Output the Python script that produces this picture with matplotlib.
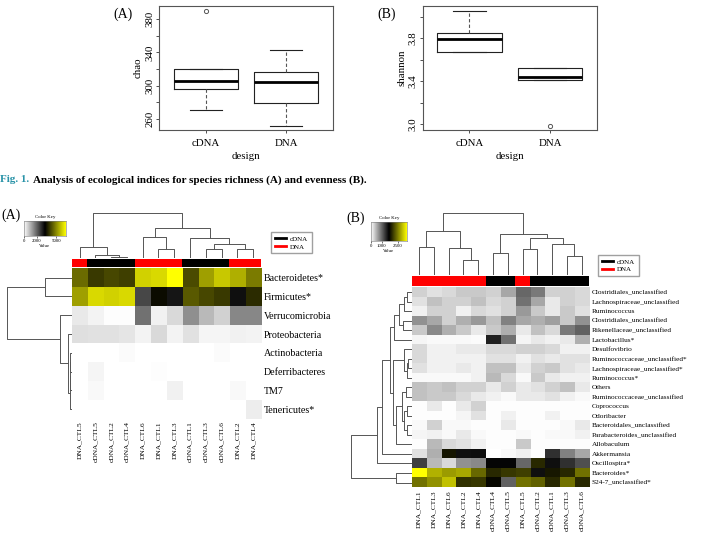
import numpy as np
import matplotlib
matplotlib.use("Agg")
import matplotlib.pyplot as plt
from matplotlib.colors import LinearSegmentedColormap
from matplotlib.lines import Line2D

plt.rcParams['font.family'] = ['Liberation Serif', 'DejaVu Serif']

W, H = 703, 533

# ---- box plot data ----
groups = ['cDNA', 'DNA']
chao_med = [305.2, 304.4]
chao_q1 = [296.0, 279.2]
chao_q3 = [320.0, 316.4]
chao_lo = [270.4, 252.0]
chao_hi = [320.0, 342.4]
chao_out = [[389.6], []]

shan_med = [3.793, 3.441]
shan_q1 = [3.670, 3.413]
shan_q3 = [3.846, 3.525]
shan_lo = [3.670, 3.413]
shan_hi = [4.054, 3.525]
shan_out = [[], [2.984]]

# ---- heatmap A: phyla ----
phyla = ['Bacteroidetes*', 'Firmicutes*', 'Verrucomicrobia', 'Proteobacteria',
         'Actinobacteria', 'Deferribacteres', 'TM7', 'Tenericutes*']
samples_a = ['DNA_CTL5', 'cDNA_CTL5', 'cDNA_CTL2', 'cDNA_CTL4', 'DNA_CTL6', 'DNA_CTL1',
             'DNA_CTL3', 'cDNA_CTL1', 'cDNA_CTL3', 'cDNA_CTL6', 'DNA_CTL2', 'DNA_CTL4']
phyla_counts = [
    [4600, 3970, 4160, 4060, 5900, 6000, 6500, 4200, 5270, 5790, 5460, 4810],
    [5270, 6000, 5900, 6000, 2340, 3400, 2990, 4390, 4160, 3980, 3070, 3790],
    [290, 160, 30, 30, 1820, 200, 490, 1430, 910, 590, 1530, 1530],
    [420, 390, 390, 340, 160, 490, 160, 390, 130, 130, 200, 160],
    [20, 20, 20, 60, 10, 10, 20, 10, 10, 60, 10, 10],
    [10, 150, 10, 10, 10, 40, 10, 10, 10, 10, 10, 10],
    [10, 100, 10, 10, 10, 10, 180, 10, 10, 10, 100, 10],
    [5, 5, 5, 5, 5, 5, 5, 5, 5, 5, 5, 230],
]
# dendrograms as (left, right, height); ints are leaf positions
col_tree_a = ((0, (1, (2, 3, 4), 8), 32),
              ((4, (5, 6, 28), 63), (7, ((8, 9, 28), (10, 11, 28), 42), 60), 90), 135)
row_tree_a = ((0, 1, 77), (2, (3, (((4, 5, 4), 6, 5), 7, 6), 12), 35), 190)

# ---- heatmap B: genera ----
genera = ['Clostridiales_unclassified', 'Lachnospiraceae_unclassified', 'Ruminococcus',
          'Clostridiales_unclassified', 'Rikenellaceae_unclassified', 'Lactobacillus*',
          'Desulfovibrio', 'Ruminococcaceae_unclassified*', 'Lachnospiraceae_unclassified*',
          'Ruminococcus*', 'Others', 'Ruminococcaceae_unclassified', 'Coprococcus',
          'Odoribacter', 'Bacteroidales_unclassified', 'Parabacteroides_unclassified',
          'Allobaculum', 'Akkermansia', 'Oscillospira*', 'Bacteroides*', 'S24-7_unclassified*']
samples_b = ['DNA_CTL1', 'DNA_CTL3', 'DNA_CTL6', 'DNA_CTL2', 'DNA_CTL4', 'cDNA_CTL4',
             'cDNA_CTL5', 'DNA_CTL5', 'cDNA_CTL2', 'cDNA_CTL1', 'cDNA_CTL3', 'cDNA_CTL6']
genus_counts = [
    [300, 200, 250, 360, 360, 300, 570, 980, 870, 300, 300, 250],
    [200, 410, 300, 300, 410, 250, 300, 920, 570, 150, 300, 250],
    [100, 300, 300, 100, 250, 200, 300, 670, 360, 150, 360, 200],
    [720, 570, 300, 520, 670, 410, 820, 570, 520, 620, 360, 720],
    [360, 770, 520, 360, 150, 360, 520, 150, 410, 250, 870, 1030],
    [70, 50, 50, 50, 30, 1440, 920, 70, 150, 100, 150, 520],
    [250, 100, 100, 150, 150, 250, 250, 300, 300, 250, 100, 100],
    [250, 100, 100, 100, 100, 200, 200, 100, 200, 150, 200, 200],
    [200, 100, 100, 150, 100, 410, 410, 150, 300, 360, 200, 150],
    [50, 50, 50, 50, 100, 460, 250, 50, 360, 150, 100, 100],
    [410, 360, 410, 300, 300, 150, 300, 150, 200, 300, 410, 150],
    [410, 360, 360, 250, 150, 100, 50, 150, 150, 200, 100, 50],
    [20, 150, 20, 150, 300, 20, 20, 20, 20, 20, 20, 20],
    [20, 20, 20, 70, 200, 20, 100, 20, 20, 100, 20, 20],
    [40, 300, 40, 40, 20, 20, 150, 20, 20, 20, 40, 150],
    [70, 100, 40, 150, 40, 20, 20, 40, 20, 40, 40, 100],
    [20, 460, 250, 200, 100, 20, 20, 360, 20, 20, 20, 20],
    [200, 520, 1780, 1550, 1560, 10, 50, 100, 20, 1340, 820, 570],
    [1240, 460, 250, 720, 770, 1620, 1620, 980, 1910, 1550, 1340, 1140],
    [3300, 2790, 2650, 2740, 2330, 1910, 2010, 2060, 1550, 1800, 1910, 2380],
    [2380, 2580, 2890, 1960, 2010, 1700, 1030, 2380, 2270, 1910, 2380, 1910],
]
col_tree_b = (((0, 1, 83), (2, (3, 4, 45), 80), 130),
              ((5, 6, 65), ((7, 8, 78), (9, (10, 11, 58), 92), 110), 122), 185)
_d = ((((0, 1, 13), 2, 23), (3, 4, 25), 37), 5, 52)
_f = (6, ((7, 8, 11), 9, 15), 23)
_g = ((10, 11, 17), ((12, 13, 13), (14, 15, 13), 23), 30)
row_tree_b = ((((_d, (_f, (_g, 16, 48), 55), 65), 17, 88), 18, 105), (19, 20, 47), 182)

cmap = LinearSegmentedColormap.from_list('wby', ['white', 'black', 'yellow'])

fig = plt.figure(figsize=(W / 100, H / 100), dpi=100)


def rect(x0, y0, x1, y1):
    return [x0 / W, 1 - y1 / H, (x1 - x0) / W, (y1 - y0) / H]


def boxpanel(px, med, q1, q3, lo, hi, out, ylim, ticks, shown, ylabel):
    ax = fig.add_axes(rect(*px))
    stats = [dict(med=med[i], q1=q1[i], q3=q3[i], whislo=lo[i], whishi=hi[i],
                  fliers=out[i], label=groups[i]) for i in range(len(groups))]
    ax.bxp(stats, positions=[1, 2], widths=0.8, capwidths=0.4,
           boxprops=dict(color='#222222', lw=0.8),
           medianprops=dict(color='black', lw=2),
           whiskerprops=dict(color='#555555', lw=0.8, ls=(0, (3, 2))),
           capprops=dict(color='#222222', lw=0.8),
           flierprops=dict(marker='o', mfc='none', mec='#555555', ms=3, mew=0.7))
    ax.set_xlim(0.42, 2.58)
    ax.set_ylim(*ylim)
    ax.set_yticks(ticks)
    ax.set_yticklabels([t if t in shown else '' for t in
                        [('%g' % v if v >= 100 else '%.1f' % v) for v in ticks]],
                       rotation=90, va='center', fontsize=7.8)
    ax.tick_params(axis='both', length=2.5, width=0.6, pad=1, colors='#333333',
                   labelcolor='black')
    ax.tick_params(axis='x', pad=4, labelsize=7.8)
    ax.set_xlabel('design', fontsize=7.8, labelpad=3)
    ax.set_ylabel(ylabel, fontsize=7.8, labelpad=2)
    for s in ax.spines.values():
        s.set_color('#555555')
        s.set_linewidth(0.8)
    return ax


boxpanel((159, 6, 333, 130), chao_med, chao_q1, chao_q3, chao_lo, chao_hi, chao_out,
         (246.8, 395.6), [260, 280, 300, 320, 340, 360, 380],
         ['260', '300', '340', '380'], 'chao')
boxpanel((422.7, 6, 596.7, 130), shan_med, shan_q1, shan_q3, shan_lo, shan_hi, shan_out,
         (2.947, 4.10), [3.0, 3.2, 3.4, 3.6, 3.8, 4.0],
         ['3.0', '3.4', '3.8'], 'shannon')

fig.text(133 / W, 1 - 14 / H, '(A)', ha='right', va='center', fontsize=10)
fig.text(396 / W, 1 - 14 / H, '(B)', ha='right', va='center', fontsize=10)

fig.text(0 / W, 1 - 180 / H, 'Fig. 1.', ha='left', va='center', fontsize=8,
         fontweight='bold', color='#2a93a8')
fig.text(33 / W, 1 - 180 / H,
         'Analysis of ecological indices for species richness (A) and evenness (B).',
         ha='left', va='center', fontsize=8, fontweight='bold')


def draw_tree(ax, node, orient):
    if isinstance(node, int):
        return node, 0.0
    left, right, h = node
    lp, lh = draw_tree(ax, left, orient)
    rp, rh = draw_tree(ax, right, orient)
    xs, ys = [lp, lp, rp, rp], [lh, h, h, rh]
    if orient == 'top':
        ax.plot(xs, ys, color='#555555', lw=0.7)
    else:
        ax.plot(ys, xs, color='#555555', lw=0.7)
    return (lp + rp) / 2, h


def heatpanel(values, rows, cols, hm_px, strip_px, cden_px, rden_px,
              col_tree, row_tree, vmax, row_fs, col_fs):
    n, m = len(cols), len(rows)
    ax = fig.add_axes(rect(*hm_px))
    ax.imshow(np.array(values), cmap=cmap, vmin=0, vmax=vmax, aspect='auto',
              interpolation='nearest')
    ax.set_xticks(range(n))
    ax.set_xticklabels(cols, rotation=90, va='top', fontsize=col_fs)
    ax.yaxis.tick_right()
    ax.set_yticks(range(m))
    ax.set_yticklabels(rows, fontsize=row_fs)
    ax.tick_params(length=0, pad=2)
    for s in ax.spines.values():
        s.set_visible(False)

    st = fig.add_axes(rect(*strip_px))
    colors = ['black' if c.startswith('cDNA') else '#ff0000' for c in cols]
    st.bar(np.arange(n), 1, width=1.0, color=colors, linewidth=0)
    st.set_xlim(-0.5, n - 0.5)
    st.set_ylim(0, 1)
    st.axis('off')

    cd = fig.add_axes(rect(*cden_px))
    draw_tree(cd, col_tree, 'top')
    cd.set_xlim(-0.5, n - 0.5)
    cd.set_ylim(0, col_tree[2])
    cd.axis('off')

    rd = fig.add_axes(rect(*rden_px))
    draw_tree(rd, row_tree, 'left')
    rd.set_ylim(m - 0.5, -0.5)
    rd.set_xlim(row_tree[2], 0)
    rd.axis('off')


def colorkey(px, vmax, ticks):
    ax = fig.add_axes(rect(*px))
    grad = np.linspace(0, vmax, 256)[None, :]
    ax.imshow(grad, cmap=cmap, vmin=0, vmax=vmax, aspect='auto',
              extent=(0, vmax, 0, 1))
    ax.set_yticks([])
    ax.set_xticks(ticks)
    ax.set_xticklabels([str(t) for t in ticks], fontsize=3.5)
    ax.tick_params(axis='x', length=1.5, width=0.4, pad=1)
    ax.set_xlabel('Value', fontsize=3.5, labelpad=0.5)
    ax.set_title('Color Key', fontsize=3.5, pad=2)
    for s in ax.spines.values():
        s.set_linewidth(0.4)
        s.set_color('#777777')


heatpanel(phyla_counts, phyla, samples_a, (71.7, 268.3, 261, 418.5), (71.7, 259, 261, 266.7),
          (71.7, 213, 261, 258), (7, 268.3, 71.7, 418.5), col_tree_a, row_tree_a,
          6500, 7.2, 5.4)
colorkey((24, 220.7, 66, 236), 6500, [0, 2000, 5000])

heatpanel(genus_counts, genera, samples_b, (411.7, 287.3, 589, 487.3), (411.7, 276, 589, 285.7),
          (411.7, 213, 589, 275), (351, 287.3, 411.7, 487.3), col_tree_b, row_tree_b,
          3300, 5.2, 5.4)
colorkey((371, 221.7, 406.7, 240.7), 3300, [0, 1000, 2500])

handles = [Line2D([], [], color='black', lw=2), Line2D([], [], color='#ff0000', lw=2)]
for x, y in [(268, 229), (595, 251.7)]:
    fig.legend(handles, groups, loc='upper left', bbox_to_anchor=(x / W, 1 - y / H),
               fontsize=5, frameon=True, fancybox=False, edgecolor='#888888',
               handlelength=1.6, borderpad=0.5, labelspacing=0.3, handletextpad=0.6)

fig.text(1 / W, 1 - 215 / H, '(A)', ha='left', va='center', fontsize=10)
fig.text(365 / W, 1 - 218 / H, '(B)', ha='right', va='center', fontsize=10)

fig.savefig('out.png', dpi=100)
